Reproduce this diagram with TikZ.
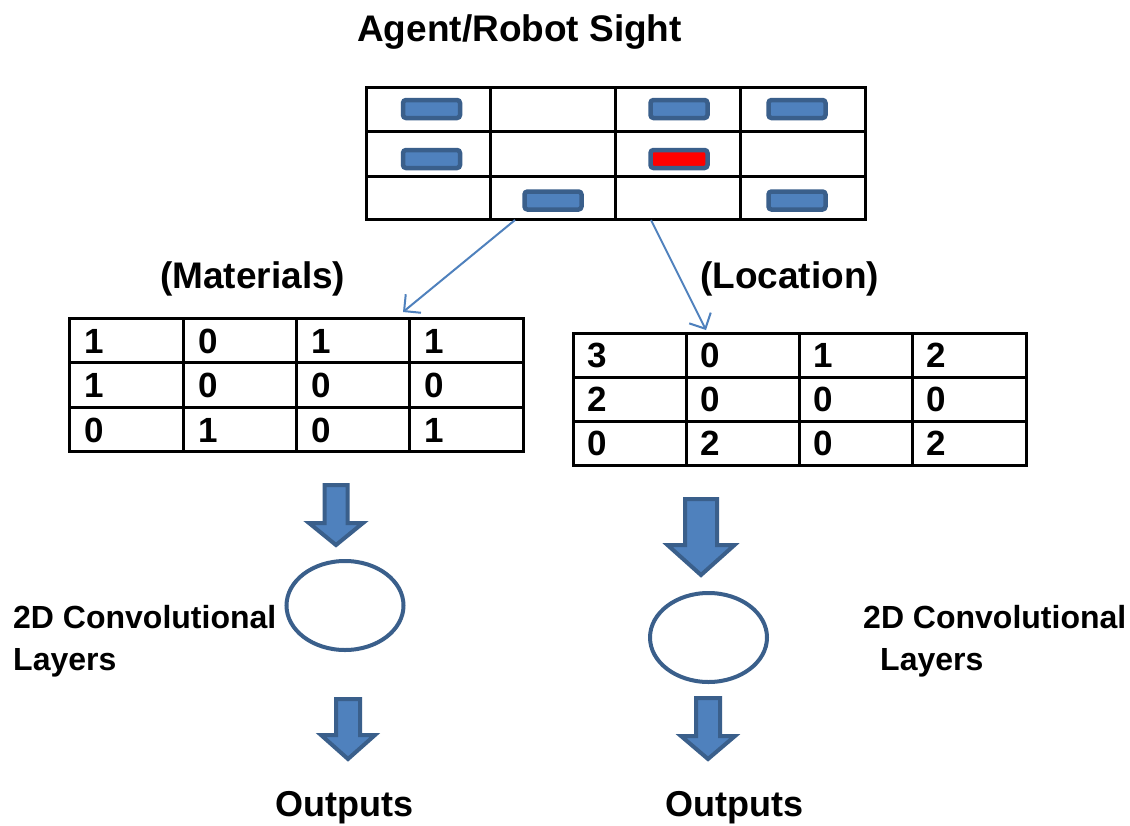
\documentclass[tikz,border=0pt]{standalone}
\usepackage{fontspec}
\setmainfont{Liberation Sans}
\usetikzlibrary{arrows.meta,shapes.geometric}
\definecolor{fillblue}{HTML}{4F81BD}
\definecolor{edgeblue}{HTML}{3A5F8B}
\begin{document}
\begin{tikzpicture}[x=1pt,y=-1pt,
  gridline/.style={draw=black,line width=3pt},
  chip/.style={draw=edgeblue,fill=fillblue,line width=4.5pt,rounded corners=3pt,minimum width=57pt,minimum height=18pt,inner sep=0pt},
  redchip/.style={chip,fill=red},
  blockarrow/.style={draw=edgeblue,fill=fillblue,line width=4pt,line join=miter},
  thinarrow/.style={draw=fillblue,line width=2pt,-{Straight Barb[length=12pt,width=24pt,line width=2pt]}},
  convnode/.style={draw=edgeblue,line width=4pt,ellipse,inner sep=0pt,minimum width=117pt,minimum height=89pt},
  titletext/.style={inner sep=0pt,anchor=base west,font=\bfseries\fontsize{37}{44}\selectfont},
  numtext/.style={inner sep=0pt,anchor=base west,font=\bfseries\fontsize{35}{42}\selectfont},
  convtext/.style={inner sep=0pt,anchor=base west,font=\bfseries\fontsize{32}{42}\selectfont},
  outtext/.style={inner sep=0pt,anchor=base west,font=\bfseries\fontsize{36}{42}\selectfont}]
\useasboundingbox (0,0) rectangle (1130,825);
\fill[white] (0,0) rectangle (1130,825);

% title
\node[titletext] (title) at (357,41) {Agent/Robot Sight};

% top grid
\node[draw=none,inner sep=0pt,minimum width=499pt,minimum height=132pt] (sight) at (615.5,153) {};
\draw[gridline] (366,87) rectangle (865,219);
\foreach \x in {490,615,740} \draw[gridline] (\x,87) -- (\x,219);
\foreach \y in {131,176} \draw[gridline] (366,\y) -- (865,\y);

% chips
\node[chip] (c11) at (431.5,109) {};
\node[chip] (c13) at (679,109) {};
\node[chip] (c14) at (797,109) {};
\node[chip] (c21) at (431.5,159) {};
\node[redchip] (c23) at (679,159) {};
\node[chip] (c32) at (553,200.5) {};
\node[chip] (c34) at (797,200.5) {};

% labels
\node[titletext] (matlabel) at (160,288) {(Materials)};
\node[titletext] (loclabel) at (700,288) {(Location)};

% materials table
\draw[gridline] (69,318) rectangle (523,451);
\foreach \x in {183,296,409} \draw[gridline] (\x,318) -- (\x,451);
\foreach \y in {362,407} \draw[gridline] (69,\y) -- (523,\y);
\foreach \r/\ry in {1/318,2/362,3/407}{
  \foreach \c/\cx in {1/69,2/183,3/296,4/409}{
    \coordinate (m\r\c) at (\cx+15,\ry+35);
  }
}
\node[numtext] (ma11) at (m11) {1};
\node[numtext] (ma12) at (m12) {0};
\node[numtext] (ma13) at (m13) {1};
\node[numtext] (ma14) at (m14) {1};
\node[numtext] (ma21) at (m21) {1};
\node[numtext] (ma22) at (m22) {0};
\node[numtext] (ma23) at (m23) {0};
\node[numtext] (ma24) at (m24) {0};
\node[numtext] (ma31) at (m31) {0};
\node[numtext] (ma32) at (m32) {1};
\node[numtext] (ma33) at (m33) {0};
\node[numtext] (ma34) at (m34) {1};

% location table
\draw[gridline] (573,333) rectangle (1026,465);
\foreach \x in {686,799,912} \draw[gridline] (\x,333) -- (\x,465);
\foreach \y in {377,421} \draw[gridline] (573,\y) -- (1026,\y);
\foreach \r/\ry in {1/333,2/377,3/421}{
  \foreach \c/\cx in {1/573,2/686,3/799,4/912}{
    \coordinate (l\r\c) at (\cx+14,\ry+34);
  }
}
\node[numtext] (lo11) at (l11) {3};
\node[numtext] (lo12) at (l12) {0};
\node[numtext] (lo13) at (l13) {1};
\node[numtext] (lo14) at (l14) {2};
\node[numtext] (lo21) at (l21) {2};
\node[numtext] (lo22) at (l22) {0};
\node[numtext] (lo23) at (l23) {0};
\node[numtext] (lo24) at (l24) {0};
\node[numtext] (lo31) at (l31) {0};
\node[numtext] (lo32) at (l32) {2};
\node[numtext] (lo33) at (l33) {0};
\node[numtext] (lo34) at (l34) {2};

% thin arrows
\coordinate (s1) at (515,220);
\coordinate (e1) at (403,312);
\coordinate (s2) at (651,220);
\coordinate (e2) at (706,330);
\draw[thinarrow] (s1) -- (e1);
\draw[thinarrow] (s2) -- (e2);

% block arrows
\newcommand{\blockarr}[6]{% cx, shaft hw, head hw, y0, y1, y2
  \draw[blockarrow] (#1-#2,#4) -- (#1+#2,#4) -- (#1+#2,#5) -- (#1+#3,#5) -- (#1,#6) -- (#1-#3,#5) -- (#1-#2,#5) -- cycle;}
\blockarr{336}{11.5}{27}{485}{523}{545}
\blockarr{348}{12}{27}{699}{735}{759}
\blockarr{701}{16}{33.5}{499}{545}{575}
\blockarr{708}{12}{27}{698}{736}{759}

% conv ellipses
\node[convnode] (conv1) at (345,605.5) {};
\node[convnode] (conv2) at (708.5,637.5) {};

% conv labels
\node[convtext] (cl1) at (13,628) {2D Convolutional};
\node[convtext] (cl1b) at (13,670) {Layers};
\node[convtext] (cl2) at (863,628) {2D Convolutional};
\node[convtext] (cl2b) at (880,670) {Layers};

% outputs
\node[outtext] (out1) at (275,816) {Outputs};
\node[outtext] (out2) at (665,816) {Outputs};
\end{tikzpicture}
\end{document}
